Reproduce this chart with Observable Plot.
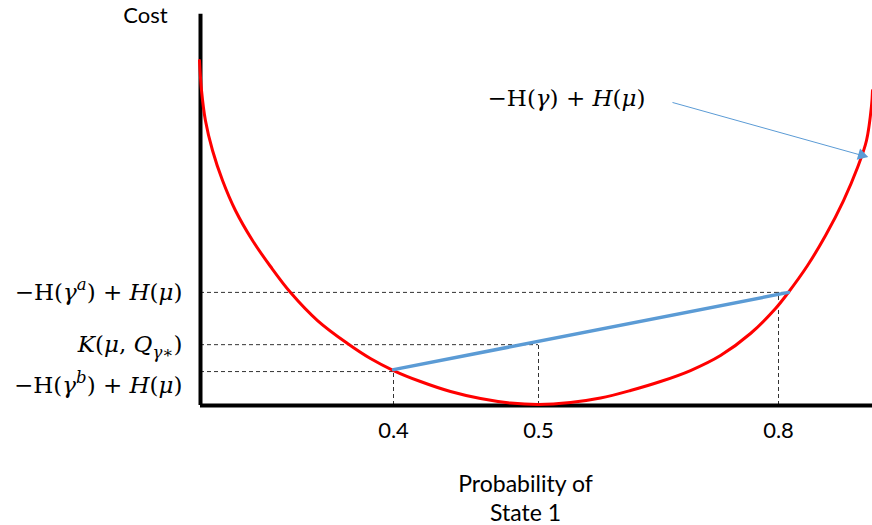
<!DOCTYPE html>
<html><head><meta charset="utf-8">
<script src="https://cdn.jsdelivr.net/npm/d3@7"></script>
<script src="https://cdn.jsdelivr.net/npm/@observablehq/plot@0.6"></script>
<style>body{margin:0;background:#fff}</style>
</head><body><div id="chart"></div>
<script>
// ---- data ----
const curveX = [0.2662,0.2676,0.2703,0.2752,0.2821,0.2910,0.3028,0.3152,0.3290,0.3476,0.3683,0.3841,0.4000,0.4186,0.4393,0.4600,0.4807,0.5000,0.5400,0.5775,0.6150,0.6525,0.6900,0.7275,0.7650,0.7963,0.8113,0.8363,0.8588,0.8813,0.8988,0.9100,0.9163,0.9175];
const curveCost = [0.8846,0.8077,0.7308,0.6538,0.5769,0.5000,0.4231,0.3564,0.2897,0.2179,0.1590,0.1205,0.0897,0.0615,0.0359,0.0179,0.0064,0.0026,0.0077,0.0192,0.0385,0.0615,0.0897,0.1282,0.1846,0.2487,0.2872,0.3590,0.4359,0.5256,0.6103,0.6795,0.7692,0.8077];
const tickValues = [0.4, 0.5, 0.8];
const tickLabels = ["0.4", "0.5", "0.8"];
const chordX = [0.4, 0.8125];
const chordCost = [0.092, 0.290];
const guideX = [0.4, 0.5, 0.8];
const guideCost = [0.087, 0.156, 0.290];
const guideEndX = [0.4, 0.5, 0.8113];
const yLabelCost = [0.290, 0.156, 0.051];
const yLabelParts = [
  [["−H(","r"],["γ","i"],["a","sup"],[") + ","r"],["H","i"],["(","r"],["μ","i"],[")","r"]],
  [["K","i"],["(","r"],["μ","i"],[", ","r"],["Q","i"],["γ∗","sub"],[")","r"]],
  [["−H(","r"],["γ","i"],["b","sup"],[") + ","r"],["H","i"],["(","r"],["μ","i"],[")","r"]]
];
const curveLabelParts = [["−H(","r"],["γ","i"],[") + ","r"],["H","i"],["(","r"],["μ","i"],[")","r"]];
const curveLabelX = [0.535], curveLabelCost = [0.787];
const arrowX = [0.6675, 0.91], arrowCost = [0.777, 0.638];
const arrowHeadX = [0.904], arrowHeadCost = [0.642];
const yTitle = "Cost";
const xTitle = "Probability of\nState 1";
const xDomain = [0.2669, 0.4, 0.5, 0.8, 0.9175];

// ---- build ----
const W = 872, H = 525;
const xRange = [200, 393, 538, 778, 872];
const plain = parts => parts.map(p => p[0]).join("");
const curve = curveX.map((x, i) => ({x, c: curveCost[i]}));
const chord = chordX.map((x, i) => ({x, c: chordCost[i]}));
const guides = guideX.map((x, i) => ({x, c: guideCost[i], xe: guideEndX[i]}));
const ylabs = yLabelCost.map((c, i) => ({c, t: plain(yLabelParts[i])}));
const mathFont = "DejaVu Serif";
const sansFont = "Lato";

const svg = Plot.plot({
  width: W, height: H,
  marginLeft: 200, marginRight: 0, marginTop: 15, marginBottom: 120,
  style: {fontFamily: sansFont, background: "#fff", color: "#000", overflow: "visible"},
  x: {domain: xDomain, range: xRange, type: "linear"},
  y: {domain: [0, 1], axis: null},
  marks: [
    Plot.ruleX(guides, {x: "x", y1: 0, y2: "c", stroke: "#333", strokeWidth: 1, strokeDasharray: "4,3"}),
    Plot.ruleY(guides, {y: "c", x1: xDomain[0], x2: "xe", stroke: "#333", strokeWidth: 1, strokeDasharray: "4,3"}),
    Plot.ruleY([0], {stroke: "#000", strokeWidth: 4}),
    Plot.ruleX([xDomain[0]], {y1: 0, y2: 1.003, stroke: "#000", strokeWidth: 4}),
    Plot.line(curve, {x: "x", y: "c", stroke: "#ff0000", strokeWidth: 3, curve: "catmull-rom"}),
    Plot.line(chord, {x: "x", y: "c", stroke: "#5b9bd5", strokeWidth: 3.5}),
    Plot.link([0], {x1: arrowX[0], y1: arrowCost[0], x2: arrowX[1], y2: arrowCost[1], stroke: "#5b9bd5", strokeWidth: 1}),
    Plot.dot([0], {x: arrowHeadX[0], y: arrowHeadCost[0], symbol: "triangle", r: 4.4, fill: "#5b9bd5", stroke: "none", rotate: 106.4}),
    Plot.text([0], {x: curveLabelX[0], y: curveLabelCost[0], text: () => plain(curveLabelParts), fontFamily: mathFont, fontSize: 23, fill: "#000", textAnchor: "middle"}),
    Plot.text(ylabs, {x: xDomain[0], y: "c", text: "t", dx: -18, textAnchor: "end", fontFamily: mathFont, fontSize: 23, fill: "#000"}),
    Plot.axisX({ticks: tickValues, tickFormat: d => tickLabels[tickValues.indexOf(d)], tickSize: 0, tickPadding: 17, fontSize: 22, label: null, fill: "#000"}),
    Plot.text([yTitle], {frameAnchor: "top-left", text: d => d, dx: -55, dy: 0, lineAnchor: "middle", fontSize: 22, textAnchor: "middle", fill: "#000"}),
    Plot.text([xTitle], {frameAnchor: "bottom", text: d => d, dx: -11, dy: 66, lineAnchor: "top", lineHeight: 1.25, fontSize: 23, textAnchor: "middle", fill: "#000"})
  ]
});

function richify(textEl, parts) {
  const t = d3.select(textEl);
  t.text(null);
  let shift = 0;
  for (const [s, st] of parts) {
    const ts = t.append("tspan").text(s);
    let target = 0;
    const small = (st === "sup" || st === "sub");
    if (st !== "r") ts.attr("font-style", "italic");
    if (st === "sup") target = -0.42;
    if (st === "sub") target = 0.28;
    if (small) ts.attr("font-size", "0.72em");
    const fs = small ? 0.72 : 1;
    const delta = (target - shift) / fs;
    if (Math.abs(delta) > 1e-6) ts.attr("dy", delta.toFixed(3) + "em");
    shift = target;
  }
}
const allRich = [...yLabelParts, curveLabelParts];
d3.select(svg).selectAll("text").each(function() {
  const txt = this.textContent;
  const match = allRich.find(p => plain(p) === txt);
  if (match && this.children.length === 0) richify(this, match);
});

document.getElementById("chart").appendChild(svg);
</script>
</body></html>
